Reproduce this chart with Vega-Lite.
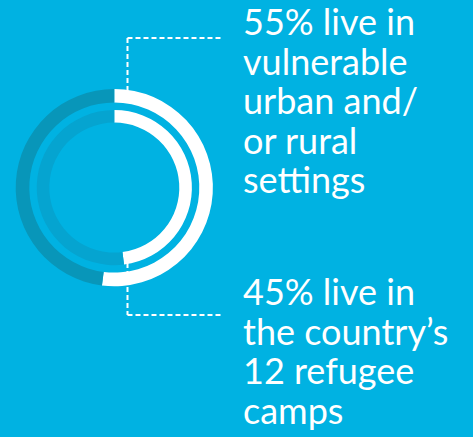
{
  "$schema": "https://vega.github.io/schema/vega-lite/v6.json",
  "width": 473,
  "height": 437,
  "padding": 0,
  "autosize": {"type": "none"},
  "background": "#00b2e2",
  "config": {"view": {"stroke": null}},
  "datasets": {
    "rings": [
      {"ring": "outer", "segment": "Vulnerable urban and/or rural settings", "share": 52, "ord": 1},
      {"ring": "outer", "segment": "Outer remainder", "share": 48, "ord": 2},
      {"ring": "inner", "segment": "Refugee camps", "share": 48, "ord": 1},
      {"ring": "inner", "segment": "Inner remainder", "share": 52, "ord": 2}
    ],
    "labels": [
      {"group": "settings", "label": "55% live in\nvulnerable\nurban and/\nor rural\nsettings"},
      {"group": "camps", "label": "45% live in\nthe country’s\n12 refugee\ncamps"}
    ],
    "connector": [{"note": "leader line"}]
  },
  "layer": [
    {
      "data": {"name": "connector"},
      "mark": {"type": "rule", "color": "white", "strokeWidth": 2, "strokeDash": [5, 3]},
      "encoding": {"x": {"value": 127.5}, "y": {"value": 38}, "y2": {"value": 95}}
    },
    {
      "data": {"name": "connector"},
      "mark": {"type": "rule", "color": "white", "strokeWidth": 2, "strokeDash": [5, 3]},
      "encoding": {"x": {"value": 127.5}, "x2": {"value": 221}, "y": {"value": 38}}
    },
    {
      "data": {"name": "connector"},
      "mark": {"type": "rule", "color": "white", "strokeWidth": 2, "strokeDash": [5, 3]},
      "encoding": {"x": {"value": 127.5}, "y": {"value": 255}, "y2": {"value": 315}}
    },
    {
      "data": {"name": "connector"},
      "mark": {"type": "rule", "color": "white", "strokeWidth": 2, "strokeDash": [5, 3]},
      "encoding": {"x": {"value": 127.5}, "x2": {"value": 221}, "y": {"value": 315}}
    },
    {
      "data": {"name": "rings"},
      "transform": [{"filter": "datum.ring === 'outer'"}],
      "mark": {"type": "arc", "radius": 98.6, "radius2": 85},
      "encoding": {
        "x": {"value": 114.3},
        "y": {"value": 187.6},
        "theta": {"field": "share", "type": "quantitative", "stack": true},
        "order": {"field": "ord", "type": "quantitative"},
        "color": {
          "field": "segment",
          "type": "nominal",
          "legend": null,
          "scale": {
            "domain": ["Vulnerable urban and/or rural settings", "Outer remainder", "Refugee camps", "Inner remainder"],
            "range": ["#ffffff", "#0896b9", "#ffffff", "#05a4d0"]
          }
        }
      }
    },
    {
      "data": {"name": "rings"},
      "transform": [{"filter": "datum.ring === 'inner'"}],
      "mark": {"type": "arc", "radius": 77.6, "radius2": 65},
      "encoding": {
        "x": {"value": 114.3},
        "y": {"value": 187.6},
        "theta": {"field": "share", "type": "quantitative", "stack": true},
        "order": {"field": "ord", "type": "quantitative"},
        "color": {
          "field": "segment",
          "type": "nominal",
          "legend": null,
          "scale": {
            "domain": ["Vulnerable urban and/or rural settings", "Outer remainder", "Refugee camps", "Inner remainder"],
            "range": ["#ffffff", "#0896b9", "#ffffff", "#05a4d0"]
          }
        }
      }
    },
    {
      "data": {"name": "labels"},
      "mark": {
        "type": "text",
        "align": "left",
        "baseline": "alphabetic",
        "lineBreak": "\n",
        "lineHeight": 39.5,
        "font": "Lato",
        "fontSize": 36,
        "color": "white"
      },
      "encoding": {
        "x": {"value": 243},
        "y": {
          "field": "group",
          "type": "nominal",
          "axis": null,
          "scale": {"type": "point", "domain": ["settings", "camps"], "range": [35, 305], "padding": 0}
        },
        "text": {"field": "label", "type": "nominal"}
      }
    }
  ]
}
